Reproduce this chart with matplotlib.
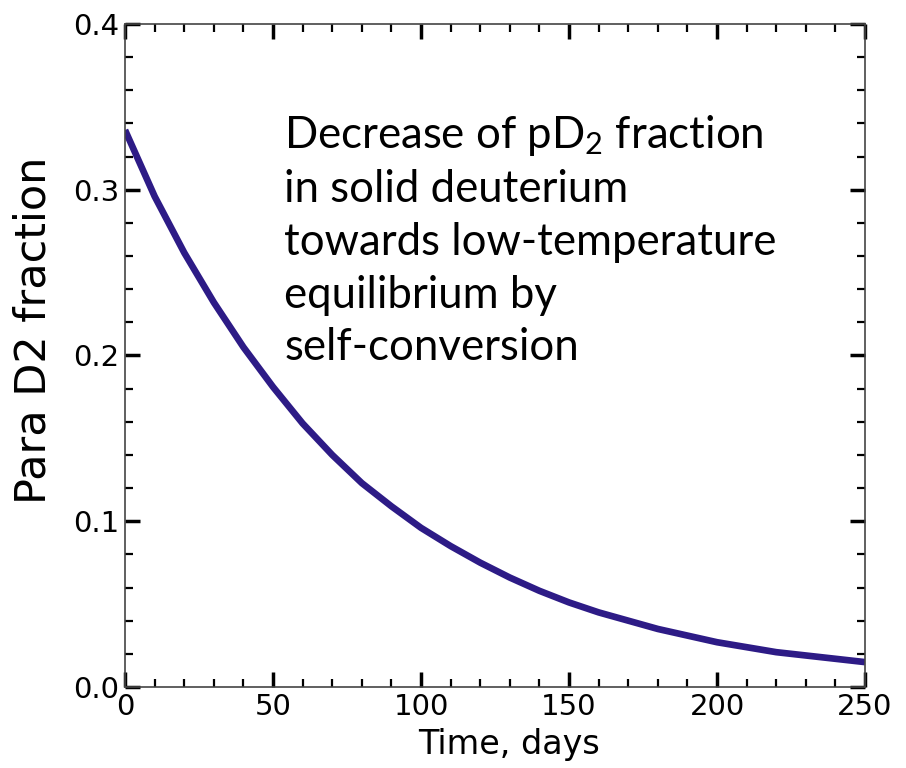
import matplotlib
matplotlib.use("Agg")
import matplotlib.pyplot as plt
from matplotlib.ticker import MultipleLocator

# para-D2 fraction vs time (days), read at 10-day steps
days = [0, 10, 20, 30, 40, 50, 60, 70, 80, 90, 100, 110, 120, 130, 140,
        150, 160, 170, 180, 190, 200, 210, 220, 230, 240, 250]
para_frac = [0.336, 0.296, 0.262, 0.232, 0.205, 0.181, 0.159, 0.140, 0.123,
             0.109, 0.096, 0.085, 0.075, 0.066, 0.058, 0.051, 0.045, 0.040,
             0.035, 0.031, 0.027, 0.024, 0.021, 0.019, 0.017, 0.015]

note = ("Decrease of pD$_2$ fraction\n"
        "in solid deuterium\n"
        "towards low-temperature\n"
        "equilibrium by\n"
        "self-conversion")

plt.rcParams["mathtext.fontset"] = "custom"
plt.rcParams["mathtext.rm"] = "Lato"
plt.rcParams["mathtext.it"] = "Lato:italic"

fig = plt.figure(figsize=(9.06, 7.68), dpi=100)
ax = fig.add_axes([0.138, 0.1055, 0.8168, 0.8633])

ax.plot(days, para_frac, color="#2d1b86", lw=4.8, solid_capstyle="butt")

ax.set_xlim(0, 250)
ax.set_ylim(0, 0.4)
ax.xaxis.set_major_locator(MultipleLocator(50))
ax.xaxis.set_minor_locator(MultipleLocator(10))
ax.yaxis.set_major_locator(MultipleLocator(0.1))
ax.yaxis.set_minor_locator(MultipleLocator(0.02))
ax.tick_params(which="both", direction="in", top=True, right=True, colors="black")
ax.tick_params(which="major", length=11, width=2.5, labelsize=21, pad=4)
ax.tick_params(which="minor", length=6, width=1.6)
for s in ax.spines.values():
    s.set_linewidth(1.2)
    s.set_color("#444444")

ax.set_xlabel("Time, days", fontsize=24)
ax.set_ylabel("Para D2 fraction", fontsize=31)
# labels sit a bit off-centre
ax.xaxis.set_label_coords(0.519, -0.062)
ax.yaxis.set_label_coords(-0.095, 0.538)

# anchored on the baseline of the last line
ax.text(0.215, 0.493, note, transform=ax.transAxes, fontsize=31.5,
        family=["Lato", "DejaVu Sans"], va="baseline", ha="left", linespacing=1.35)

plt.savefig("out.png", dpi=100)
